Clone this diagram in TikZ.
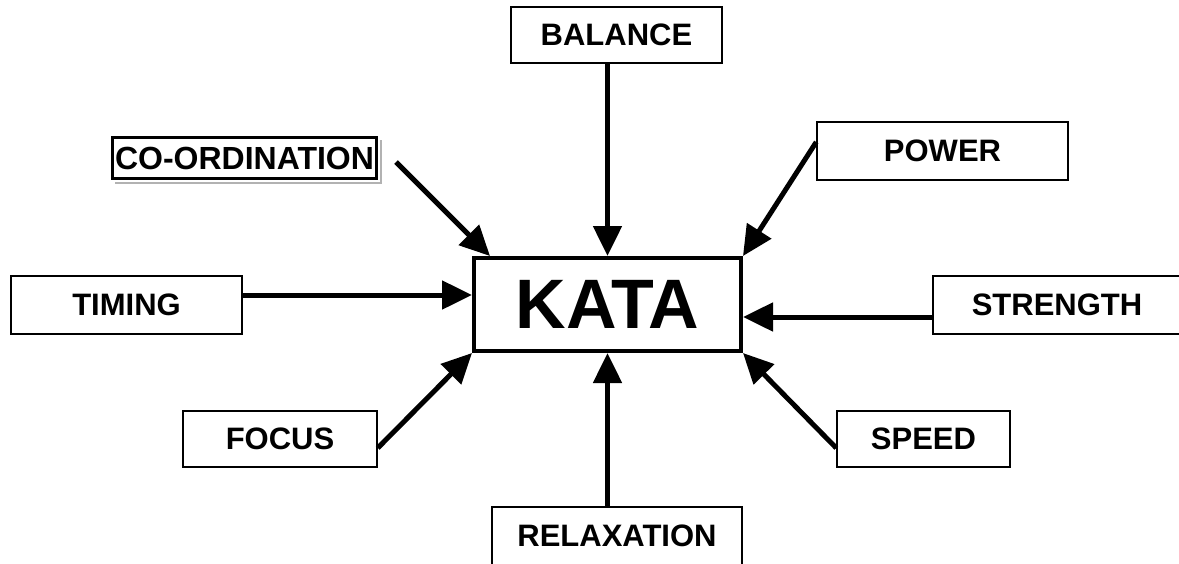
\documentclass[tikz,border=0pt]{standalone}
\usepackage{fontspec}
\setmainfont{Liberation Sans}
\usetikzlibrary{arrows.meta,calc}
\begin{document}
\begin{tikzpicture}[x=1pt,y=-1pt,
  lbl/.style={draw, line width=1.5pt, inner sep=0pt, font=\fontsize{31}{33}\selectfont\bfseries},
  arr/.style={line width=5pt, -{Triangle[length=30pt,width=28pt]}}]
\useasboundingbox (0,0) rectangle (1179,563);
\node[draw, line width=4pt, minimum width=267pt, minimum height=93pt, inner sep=0pt,
      font=\fontsize{70}{72}\selectfont\bfseries] (kata) at (607.5,304.5) {KATA};
\node[lbl, minimum width=211pt, minimum height=56pt] (bal) at (616.5,35) {BALANCE};
\node[lbl, line width=3pt, minimum width=264pt, minimum height=41pt,
      font=\fontsize{32}{34}\selectfont\bfseries] (co) at (244.5,158) {CO-ORDINATION};
\node[lbl, minimum width=251pt, minimum height=58pt] (pow) at (942.5,151) {POWER};
\node[lbl, minimum width=231pt, minimum height=58pt] (tim) at (126.5,305) {TIMING};
\node[lbl, minimum width=248pt, minimum height=58pt] (str) at (1057,305) {STRENGTH};
\node[lbl, minimum width=194pt, minimum height=56pt] (foc) at (280,439) {FOCUS};
\node[lbl, minimum width=173pt, minimum height=56pt] (spd) at (923.5,439) {SPEED};
\node[lbl, minimum width=250pt, minimum height=58pt] (rel) at (617,536) {RELAXATION};
\draw[gray!60, line width=2pt] ($(co.north east)+(2.5,4)$) -- ($(co.south east)+(2.5,2.5)$) -- ($(co.south west)+(4,2.5)$);
\coordinate (cs) at ($(co.east)+(18,4)$);
\draw[arr] (bal.south -| kata.north) -- (kata.north);
\draw[arr] (cs) -- ($(kata.north west)+(18,0)$);
\draw[arr] ($(pow.west)+(0,-9)$) -- (kata.north east);
\draw[arr] (tim.east |- 0,295) -- (kata.west |- 0,295);
\draw[arr] (str.west |- 0,317) -- (kata.east |- 0,317);
\draw[arr] ($(foc.east)+(0,9)$) -- (kata.south west);
\draw[arr] ($(spd.west)+(0,9)$) -- (kata.south east);
\draw[arr] (rel.north -| kata.south) -- (kata.south);
\end{tikzpicture}
\end{document}
